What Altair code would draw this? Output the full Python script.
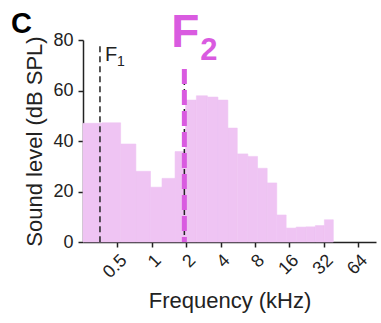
import altair as alt
import pandas as pd

# Sound spectrum: band edges (kHz) and band levels (dB SPL)
band_lo = [0.25, 0.366, 0.534, 0.726, 0.975, 1.23, 1.60, 1.98, 2.46, 3.07, 3.80,
           4.64, 5.61, 6.94, 8.44, 10.25, 12.44, 15.03, 18.4, 22.5, 27.1, 32.5]
band_hi = [0.366, 0.534, 0.726, 0.975, 1.23, 1.60, 1.98, 2.46, 3.07, 3.80, 4.64,
           5.61, 6.94, 8.44, 10.25, 12.44, 15.03, 18.4, 22.5, 27.1, 32.5, 38.9]
level_db = [47.0, 47.2, 38.8, 28.0, 21.7, 25.2, 35.8, 56.2, 57.9, 57.4, 56.2,
            45.1, 34.9, 33.9, 29.2, 23.4, 10.7, 5.5, 5.9, 6.0, 6.5, 8.8]

# Formant markers
f1_khz = 0.352
f2_khz = 1.93
f1_top_db = 77.5
f2_top_db = 68.5

tick_khz = [0.5, 1, 2, 4, 8, 16, 32, 64]

FONT = "Liberation Sans"
MAGENTA = "#D95BE0"
PINK = "#EFC4F3"

bands = pd.DataFrame({"lo": band_lo, "hi": band_hi, "db": level_db, "base": 0})
f1 = pd.DataFrame({"f": [f1_khz], "top": [f1_top_db], "base": [0]})
f2 = pd.DataFrame({"f": [f2_khz], "top": [f2_top_db], "base": [0]})

xscale = alt.Scale(type="log", base=2, domain=[0.25, 92], nice=False)
yscale = alt.Scale(domain=[0, 80], nice=False)

xaxis = alt.Axis(values=tick_khz, format="~g", labelAngle=-45, grid=False,
                 title="Frequency (kHz)", tickSize=5, labelPadding=4,
                 titlePadding=9)
yaxis = alt.Axis(values=[0, 20, 40, 60, 80], grid=False,
                 title="Sound level (dB SPL)", tickSize=5, labelPadding=5,
                 titlePadding=6)

# Spectrum bands; a thin same-colour stroke closes the seams between bands
bars = alt.Chart(bands).mark_rect(color=PINK, stroke=PINK, strokeWidth=0.6).encode(
    x=alt.X("lo:Q", scale=xscale, axis=xaxis),
    x2="hi:Q",
    y=alt.Y("db:Q", scale=yscale, axis=yaxis),
    y2="base:Q",
)

f1_line = alt.Chart(f1).mark_rule(color="#222222", strokeWidth=1.5,
                                  strokeDash=[6, 4]).encode(
    x="f:Q", y="top:Q", y2="base:Q")

f2_under = alt.Chart(f2).mark_rule(color="#222222", strokeWidth=1.5,
                                   strokeDash=[6, 4]).encode(
    x="f:Q", y="top:Q", y2="base:Q")

f2_line = alt.Chart(f2).mark_rule(color=MAGENTA, strokeWidth=5,
                                  strokeDash=[15, 6]).encode(
    x="f:Q", y="top:Q", y2="base:Q")

f1_F = alt.Chart(f1).mark_text(text="F", font=FONT, fontSize=20, color="#222222",
                               align="left", baseline="alphabetic", dx=5).encode(
    x="f:Q", y=alt.value(21))
f1_sub = alt.Chart(f1).mark_text(text="1", font=FONT, fontSize=14, color="#222222",
                                 align="left", baseline="alphabetic", dx=17).encode(
    x="f:Q", y=alt.value(26))

f2_F = alt.Chart(f2).mark_text(text="F", font=FONT, fontSize=46, fontWeight="bold",
                               color=MAGENTA, align="center",
                               baseline="alphabetic", dx=1).encode(
    x="f:Q", y=alt.value(7))
f2_sub = alt.Chart(f2).mark_text(text="2", font=FONT, fontSize=31, fontWeight="bold",
                                 color=MAGENTA, align="left",
                                 baseline="alphabetic", dx=16).encode(
    x="f:Q", y=alt.value(20))

panel = alt.Chart(f1).mark_text(text="C", font=FONT, fontSize=29, fontWeight="bold",
                                color="black", align="left",
                                baseline="alphabetic").encode(
    x=alt.value(-72), y=alt.value(-7))

chart = alt.layer(bars, f1_line, f2_under, f2_line, f1_F, f1_sub, f2_F, f2_sub,
                  panel).properties(
    width=293, height=202,
    padding={"left": 83, "top": 40, "right": 5, "bottom": 81},
    autosize="none",
).configure_view(stroke=None).configure_axis(
    domainColor="#222222", tickColor="#222222", labelColor="#222222",
    titleColor="#222222", domainWidth=1.5, tickWidth=1.5,
    labelFont=FONT, titleFont=FONT, labelFontSize=18, titleFontSize=22,
    titleFontWeight="normal",
)

chart.save("out.html", embed_options={"renderer": "svg", "actions": False})
